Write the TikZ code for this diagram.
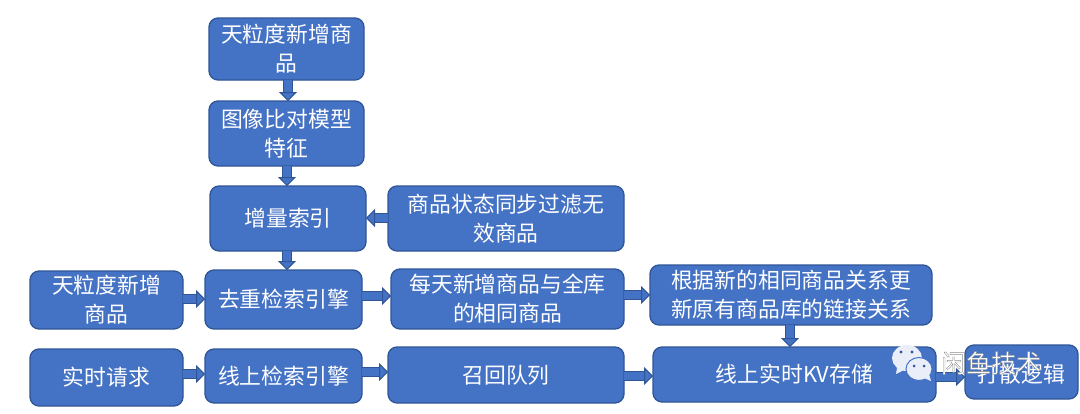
\documentclass[tikz,border=0pt]{standalone}
\usepackage{fontspec}
\setmainfont{Noto Sans CJK SC}
\usetikzlibrary{arrows.meta,calc}
\definecolor{boxfill}{HTML}{4472C4}
\definecolor{boxedge}{HTML}{2F5597}
\definecolor{wechat}{HTML}{E9EEF8}
\newcommand{\boxat}[6]{%
  \node[flowbox,minimum width=#3pt-#1pt,minimum height=#4pt-#2pt,#6] (#5) at ({(#1+#3)/2},{-(#2+#4)/2}) {};}
\tikzset{
  x=1pt,y=1pt,
  flowbox/.style={draw=boxedge,line width=1.3pt,fill=boxfill,rounded corners=9pt,inner sep=0pt,outer sep=0pt},
  boxtext/.style={text=white,font=\fontsize{21.8}{29}\selectfont,align=center,inner sep=0pt},
  blockarrow/.style={draw=boxedge,line width=1pt,double=boxfill,double distance=8.5pt,
    -{Triangle[length=9pt,width=18pt,fill=boxfill,color=boxedge,line width=1pt]},shorten >=0pt},
  mark text/.style={font=\fontsize{25}{25}\selectfont,inner sep=0pt}
}
\begin{document}
\begin{tikzpicture}
\useasboundingbox (0,0) rectangle (1080,-413);
\fill[white] (0,0) rectangle (1080,-413);
\boxat{209}{18}{364}{80}{A}{}
\boxat{209}{101}{364}{166}{B}{}
\boxat{210}{186}{366}{251}{C}{}
\boxat{388}{186}{624}{251}{D}{}
\boxat{30}{271}{183}{329}{E}{}
\boxat{205}{270}{362}{329}{F}{}
\boxat{391}{269}{624}{329}{G}{}
\boxat{650}{265}{932}{325}{H}{}
\boxat{30}{349}{183}{406}{I}{}
\boxat{205}{349}{362}{403}{J}{}
\boxat{388}{347}{624}{403}{K}{}
\boxat{653}{347}{936}{402}{L}{}
\boxat{965}{345}{1078}{399}{M}{}
% connectors
\draw[blockarrow] (288,0 |- A.south) -- (288,0 |- B.north);
\draw[blockarrow] (287,0 |- B.south) -- (287,0 |- C.north);
\draw[blockarrow] (287,0 |- C.south) -- (287,0 |- F.north);
\draw[blockarrow] (D.west |- 0,-218) -- (C.east |- 0,-218);
\draw[blockarrow] (E.east |- 0,-299) -- (F.west |- 0,-299);
\draw[blockarrow] (F.east |- 0,-296) -- (G.west |- 0,-296);
\draw[blockarrow] (G.east |- 0,-295) -- (H.west |- 0,-295);
\draw[blockarrow] (790,0 |- H.south) -- (790,0 |- L.north);
\draw[blockarrow] (I.east |- 0,-374) -- (J.west |- 0,-374);
\draw[blockarrow] (J.east |- 0,-372) -- (K.west |- 0,-372);
\draw[blockarrow] (K.east |- 0,-376) -- (L.west |- 0,-376);
\draw[blockarrow] (L.east |- 0,-377) -- (M.west |- 0,-377);
% labels
\node[boxtext] (tA) at (A) {天粒度新增商\\品};
\node[boxtext] (tB) at (B) {图像比对模型\\特征};
\node[boxtext] (tC) at (C) {增量索引};
\node[boxtext] (tD) at (D) {商品状态同步过滤无\\效商品};
\node[boxtext] (tE) at (E) {天粒度新增\\商品};
\node[boxtext] (tF) at (F) {去重检索引擎};
\node[boxtext] (tG) at (G) {每天新增商品与全库\\的相同商品};
\node[boxtext] (tH) at (H) {根据新的相同商品关系更\\新原有商品库的链接关系};
\node[boxtext] (tI) at (I) {实时请求};
\node[boxtext] (tJ) at (J) {线上检索引擎};
\node[boxtext] (tK) at (K) {召回队列};
\node[boxtext] (tL) at (L) {线上实时KV存储};
\node[boxtext] (tM) at ($(M)+(0,-2)$) {打散逻辑};
% watermark
\fill[wechat] (907,-358) circle[x radius=15pt,y radius=13pt];
\fill[wechat] (897,-368) -- (896,-374) -- (904,-370) -- cycle;
\draw[boxfill,line width=1pt,fill=wechat] (919,-369) circle[x radius=13pt,y radius=11.5pt];
\fill[wechat] (924,-378) -- (931,-381) -- (929,-374) -- cycle;
\fill[boxedge] (901,-352) circle[radius=1.7pt] (912,-352) circle[radius=1.7pt] (914,-366) circle[radius=1.5pt] (924,-366) circle[radius=1.5pt];
\node[mark text,text=white,anchor=west] (wm) at (941,-363) {\special{pdf:code q 2 Tr 0.35 w 0.55 G}闲鱼技术\special{pdf:code 0 Tr Q}};
\end{tikzpicture}
\end{document}
